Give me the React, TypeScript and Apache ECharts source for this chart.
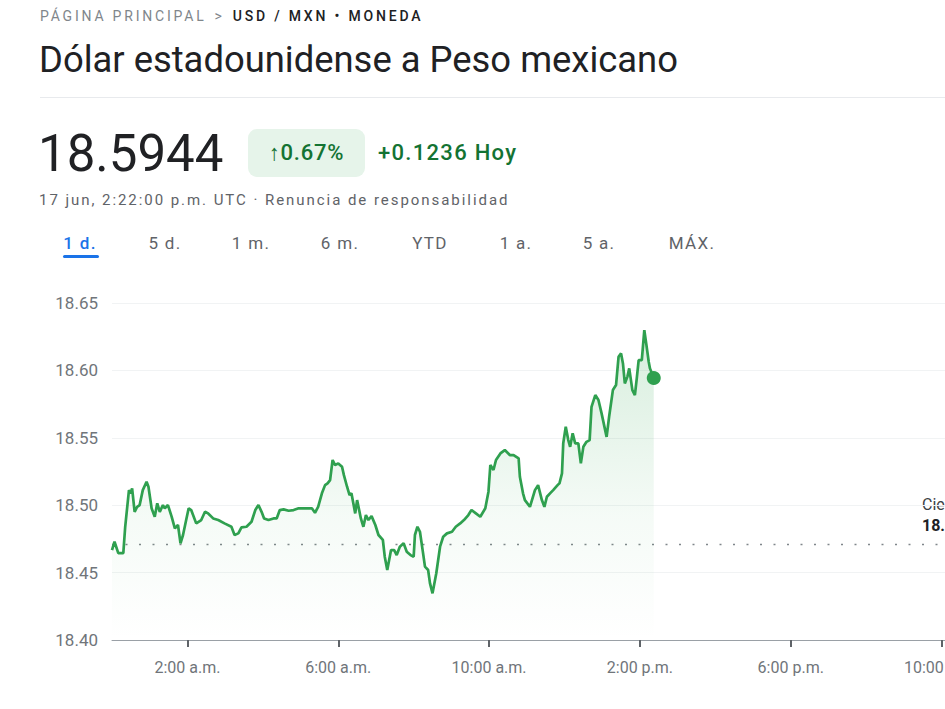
import React, { useEffect, useRef } from "react";
import * as echarts from "echarts";

// minutes since 0:00 (UTC) for each quote
const minutes = [
  0, 4, 10, 18, 21, 27, 30, 32, 36, 40,
  44, 49, 55, 58, 63, 68, 72, 76, 81, 84,
  89, 95, 100, 105, 109, 113, 118, 122, 126, 134,
  142, 148, 153, 161, 169, 179, 190, 195, 201, 206,
  214, 222, 228, 233, 238, 242, 249, 257, 262, 267,
  273, 281, 289, 297, 310, 318, 323, 328, 334, 339,
  343, 347, 351, 355, 360, 366, 369, 374, 378, 381,
  387, 390, 396, 400, 404, 408, 413, 419, 424, 431,
  434, 438, 444, 449, 453, 458, 464, 469, 475, 480,
  482, 486, 490, 495, 498, 503, 506, 510, 516, 522,
  527, 533, 541, 547, 554, 560, 567, 572, 579, 586,
  594, 599, 602, 607, 611, 618, 625, 633, 639, 647,
  649, 654, 657, 665, 673, 678, 684, 688, 692, 697,
  702, 709, 712, 716, 718, 722, 726, 729, 733, 737,
  742, 746, 750, 755, 760, 763, 769, 774, 779, 787,
  791, 797, 802, 806, 810, 813, 816, 820, 823, 828,
  832, 835, 838, 843, 847, 850, 854, 856, 862,
];

const prices = [
  18.4667, 18.4729, 18.4645, 18.4645, 18.484, 18.5112, 18.5088, 18.5125, 18.4951, 18.4988,
  18.5001, 18.5112, 18.5174, 18.5137, 18.4977, 18.4914, 18.5014, 18.4951, 18.5001, 18.4977,
  18.5001, 18.4914, 18.4828, 18.4853, 18.4717, 18.4779, 18.489, 18.4977, 18.4964, 18.4865,
  18.489, 18.4951, 18.4939, 18.4902, 18.489, 18.4865, 18.484, 18.4779, 18.4791, 18.4836,
  18.484, 18.4877, 18.4964, 18.5001, 18.4951, 18.4902, 18.489, 18.4902, 18.4902, 18.4964,
  18.4969, 18.4959, 18.4964, 18.4977, 18.4977, 18.4977, 18.4944, 18.4988, 18.5088, 18.5149,
  18.5162, 18.5186, 18.5335, 18.5298, 18.531, 18.5285, 18.5223, 18.5137, 18.5075, 18.5088,
  18.4939, 18.5038, 18.4902, 18.484, 18.4927, 18.489, 18.4919, 18.4853, 18.4779, 18.4742,
  18.4618, 18.4519, 18.4667, 18.4667, 18.463, 18.4692, 18.4717, 18.4655, 18.463, 18.4618,
  18.4779, 18.484, 18.4803, 18.4643, 18.4544, 18.4519, 18.442, 18.4346, 18.4495, 18.4692,
  18.4766, 18.4791, 18.4803, 18.484, 18.4865, 18.489, 18.4927, 18.4964, 18.4939, 18.4914,
  18.4977, 18.51, 18.5298, 18.5261, 18.5335, 18.5384, 18.5409, 18.5372, 18.5372, 18.5347,
  18.5211, 18.5088, 18.5038, 18.4988, 18.5112, 18.5149, 18.5038, 18.4988, 18.5063, 18.5088,
  18.5112, 18.5149, 18.5162, 18.5236, 18.5459, 18.5582, 18.5483, 18.5433, 18.5533, 18.5459,
  18.5459, 18.531, 18.5433, 18.547, 18.5483, 18.573, 18.5817, 18.578, 18.5681, 18.5507,
  18.5656, 18.5854, 18.5891, 18.6101, 18.6126, 18.6052, 18.5903, 18.5952, 18.6015, 18.5854,
  18.5817, 18.5941, 18.6076, 18.6076, 18.6299, 18.62, 18.6064, 18.6015, 18.5944,
];

const previousClose = 18.4708;
const dayStart = 0;
const dayEnd = 1440;
const xTickMinutes = [120, 360, 600, 840, 1080, 1320];
const xTickLabels = ["2:00 a.m.", "6:00 a.m.", "10:00 a.m.", "2:00 p.m.", "6:00 p.m.", "10:00 p.m."];
const yMin = 18.4;
const yMax = 18.65;
const yStep = 0.05;

const breadcrumbHome = "PÁGINA PRINCIPAL";
const breadcrumbPair = "USD / MXN • MONEDA";
const titleText = "Dólar estadounidense a Peso mexicano";
const priceText = "18.5944";
const pctText = "↑0.67%";
const changeText = "+0.1236 Hoy";
const dateText = "17 jun, 2:22:00 p.m. UTC · Renuncia de responsabilidad";
const tabs = ["1 d.", "5 d.", "1 m.", "6 m.", "YTD", "1 a.", "5 a.", "MÁX."];
const closeLabel = "Cierre anterior";

const GREEN = "#2fa04f";
const FONT = "Roboto, 'Noto Sans', Arial, sans-serif";

function Chart() {
  const ref = useRef<HTMLDivElement>(null);
  useEffect(() => {
    if (!ref.current) return;
    const chart = echarts.init(ref.current, undefined, { renderer: "svg" });
    const data = minutes.map((m, i) => [m, prices[i]]);
    const last = data[data.length - 1];
    chart.setOption({
      animation: false,
      textStyle: { fontFamily: FONT },
      grid: { left: 112, top: 303, width: 905, height: 337 },
      xAxis: {
        type: "value",
        min: dayStart,
        max: dayEnd,
        axisLine: { show: true, lineStyle: { color: "#9aa0a6", width: 1 } },
        axisTick: {
          show: true,
          customValues: xTickMinutes,
          length: 7,
          lineStyle: { color: "#5f6368", width: 2 },
        },
        axisLabel: {
          show: true,
          customValues: xTickMinutes,
          margin: 19,
          color: "#70757a",
          fontSize: 16,
          fontFamily: FONT,
          formatter: (v: number) => {
            const i = xTickMinutes.indexOf(v);
            return i >= 0 ? xTickLabels[i] : "";
          },
        },
        splitLine: { show: false },
      },
      yAxis: {
        type: "value",
        min: yMin,
        max: yMax,
        interval: yStep,
        axisLine: { show: false },
        axisTick: { show: false },
        axisLabel: {
          color: "#70757a",
          fontSize: 17,
          margin: 14,
          fontFamily: FONT,
          formatter: (v: number) => v.toFixed(2),
        },
        splitLine: { show: true, lineStyle: { color: "#f1f3f4", width: 1 } },
      },
      graphic: [
        {
          type: "text",
          left: 922,
          top: 496,
          style: { text: closeLabel, fill: "#3c4043", font: `16px ${FONT}` },
        },
        {
          type: "text",
          left: 922,
          top: 517,
          style: { text: previousClose.toFixed(4), fill: "#202124", font: `bold 16px ${FONT}` },
        },
      ],
      series: [
        {
          type: "line",
          data: [
            [dayStart, previousClose],
            [dayEnd, previousClose],
          ],
          symbol: "none",
          silent: true,
          lineStyle: { color: "#80868b", width: 1.6, type: [2, 11.5] },
          z: 1,
        },
        {
          type: "line",
          data,
          symbol: "none",
          lineStyle: { color: GREEN, width: 2.7 },
          areaStyle: {
            color: new echarts.graphic.LinearGradient(0, 0, 0, 1, [
              { offset: 0, color: "rgba(52,168,83,0.28)" },
              { offset: 0.6, color: "rgba(52,168,83,0.07)" },
              { offset: 1, color: "rgba(52,168,83,0.0)" },
            ]),
          },
          z: 2,
        },
        {
          type: "scatter",
          data: [last],
          symbolSize: 14,
          itemStyle: { color: GREEN, opacity: 1 },
          z: 3,
        },
      ],
    });
    return () => chart.dispose();
  }, []);
  return (
    <div
      ref={ref}
      style={{ position: "absolute", left: 0, top: 0, width: 1040, height: 709 }}
    />
  );
}

export default function App() {
  const tabCenters = [80, 165, 251, 340, 430, 516, 599, 692];
  return (
    <div
      style={{
        position: "fixed",
        left: 0,
        top: 0,
        width: 945,
        height: 709,
        overflow: "hidden",
        background: "#ffffff",
        fontFamily: FONT,
      }}
    >
      <Chart />
      <div
        style={{
          position: "absolute",
          left: 40,
          top: 7,
          fontSize: 14,
          lineHeight: "18px",
          letterSpacing: 2.8,
          whiteSpace: "nowrap",
        }}
      >
        <span style={{ color: "#80868b" }}>{breadcrumbHome}</span>
        <span style={{ color: "#80868b", margin: "0 8px" }}>{">"}</span>
        <span style={{ color: "#202124", fontWeight: 500 }}>{breadcrumbPair}</span>
      </div>
      <div
        style={{
          position: "absolute",
          left: 39,
          top: 39,
          fontSize: 36.4,
          lineHeight: "42px",
          color: "#202124",
          whiteSpace: "nowrap",
        }}
      >
        {titleText}
      </div>
      <div
        style={{
          position: "absolute",
          left: 40,
          top: 97,
          width: 905,
          height: 1,
          background: "#e8eaed",
        }}
      />
      <div
        style={{
          position: "absolute",
          left: 38,
          top: 125,
          fontSize: 51,
          lineHeight: "58px",
          color: "#202124",
          whiteSpace: "nowrap",
        }}
      >
        {priceText}
      </div>
      <div
        style={{
          position: "absolute",
          left: 248,
          top: 129,
          width: 117,
          height: 48,
          borderRadius: 9,
          background: "#e6f4ea",
          color: "#137333",
          fontSize: 22,
          fontWeight: 500,
          letterSpacing: 0.8,
          lineHeight: "48px",
          textAlign: "center",
          whiteSpace: "nowrap",
        }}
      >
        {pctText}
      </div>
      <div
        style={{
          position: "absolute",
          left: 378,
          top: 129,
          fontSize: 22,
          fontWeight: 500,
          letterSpacing: 1.3,
          lineHeight: "48px",
          color: "#137333",
          whiteSpace: "nowrap",
        }}
      >
        {changeText}
      </div>
      <div
        style={{
          position: "absolute",
          left: 39,
          top: 190,
          fontSize: 15,
          lineHeight: "20px",
          letterSpacing: 1.95,
          color: "#5f6368",
          whiteSpace: "nowrap",
        }}
      >
        {dateText}
      </div>
      {tabs.map((t, i) => (
        <div
          key={t}
          style={{
            position: "absolute",
            left: tabCenters[i] - 40,
            width: 80,
            top: 232,
            fontSize: 17,
            lineHeight: "22px",
            letterSpacing: 1.3,
            textAlign: "center",
            color: i === 0 ? "#1a73e8" : "#5f6368",
            fontWeight: i === 0 ? 500 : 400,
            whiteSpace: "nowrap",
          }}
        >
          {t}
        </div>
      ))}
      <div
        style={{
          position: "absolute",
          left: 63,
          top: 255,
          width: 36,
          height: 3,
          borderRadius: 2,
          background: "#1a73e8",
        }}
      />
    </div>
  );
}
